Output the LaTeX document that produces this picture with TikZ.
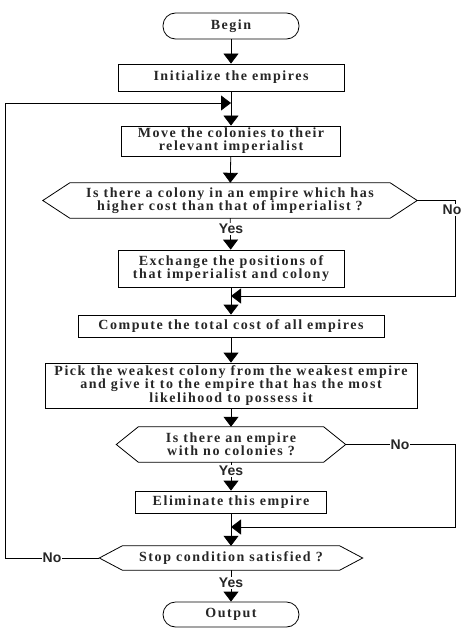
\documentclass[tikz,border=0pt]{standalone}
\usepackage{fontspec}
\setmainfont{Liberation Serif}[LetterSpace=11]
\newfontfamily\labfont{Liberation Sans}
\usetikzlibrary{arrows.meta}
\begin{document}
\begin{tikzpicture}[x=1pt,y=-1pt,
  every node/.style={font=\bfseries\fontsize{14}{13.2}\selectfont, inner sep=0pt, text=black!85},
  box/.style={draw, line width=0.8pt, align=center},
  term/.style={draw, line width=0.8pt, rounded corners=12.5pt},
  dec/.style={align=center},
  arr/.style={-{Triangle[length=10pt,width=15pt]}, line width=0.8pt},
  ln/.style={line width=0.8pt},
  yn/.style={font=\labfont\bfseries\fontsize{14}{16}\selectfont, fill=white, inner sep=1pt, text=black!85}]
\useasboundingbox (0,0) rectangle (463,631);

\node[term, minimum width=136pt, minimum height=26pt] (begin) at (231,26) {Begin};
\node[box, minimum width=226pt, minimum height=27pt] (init) at (231,77.5) {Initialize the empires};
\node[box, minimum width=219pt, minimum height=30pt] (move) at (231,141) {Move the colonies to their\\relevant imperialist};
\node[dec, minimum width=374pt, minimum height=35pt] (hexa) at (230,200.5) {Is there a colony in an empire which has\\higher cost than that of imperialist ?};
\node[box, minimum width=226pt, minimum height=37pt] (exch) at (231,268.5) {Exchange the positions of\\that imperialist and colony};
\node[box, minimum width=306pt, minimum height=22pt] (comp) at (231,326) {Compute the total cost of all empires};
\node[box, minimum width=372pt, minimum height=45pt] (pick) at (231,385.5) {Pick the weakest colony from the weakest empire\\and give it to the empire that has the most\\likelihood to possess it};
\node[dec, minimum width=229pt, minimum height=35pt] (hexb) at (231,444.5) {Is there an empire\\with no colonies ?};
\node[box, minimum width=191pt, minimum height=22pt] (elim) at (231,502) {Eliminate this empire};
\node[dec, minimum width=263pt, minimum height=24pt] (hexc) at (231,558) {Stop condition satisfied ?};
\node[term, minimum width=136pt, minimum height=25pt] (out) at (231,614.5) {Output};

% hexagon outlines
\foreach \n/\d in {hexa/27, hexb/22, hexc/23} {
  \draw[ln] (\n.west) -- ([xshift=\d pt]\n.north west) -- ([xshift=-\d pt]\n.north east)
    -- (\n.east) -- ([xshift=-\d pt]\n.south east) -- ([xshift=\d pt]\n.south west) -- cycle;
}

% junction points
\coordinate (j1) at (231,103);
\coordinate (j2) at (231,296);
\coordinate (j3) at (231,527);
\coordinate (ra) at (455,200.5);
\coordinate (rb) at (455,296);
\coordinate (rc) at (455,444.5);
\coordinate (rd) at (455,527);
\coordinate (la) at (5,558);
\coordinate (lb) at (5,103);

% main flow
\draw[arr] (begin) -- (init);
\draw[arr] (init) -- (move);
\draw[arr] (move) -- (hexa);
\draw[arr] (hexa) -- (exch);
\draw[arr] (exch) -- (comp);
\draw[arr] (comp) -- (pick);
\draw[arr] (pick) -- (hexb);
\draw[arr] (hexb) -- (elim);
\draw[arr] (elim) -- (hexc);
\draw[arr] (hexc) -- (out);

% Yes labels
\node[yn] (y1) at (231,229) {Yes};
\node[yn] (y2) at (231,471) {Yes};
\node[yn] (y3) at (231,583) {Yes};

% No branches
\draw[arr] (hexa.east) -- (ra) -- (rb) -- (j2);
\node[yn] (n1) at (452,210) {No};
\draw[arr] (hexb.east) -- (rc) -- (rd) -- (j3);
\node[yn] (n2) at (400,444.5) {No};
\draw[arr] (hexc.west) -- (la) -- (lb) -- (j1);
\node[yn] (n3) at (52,558) {No};
\end{tikzpicture}
\end{document}
